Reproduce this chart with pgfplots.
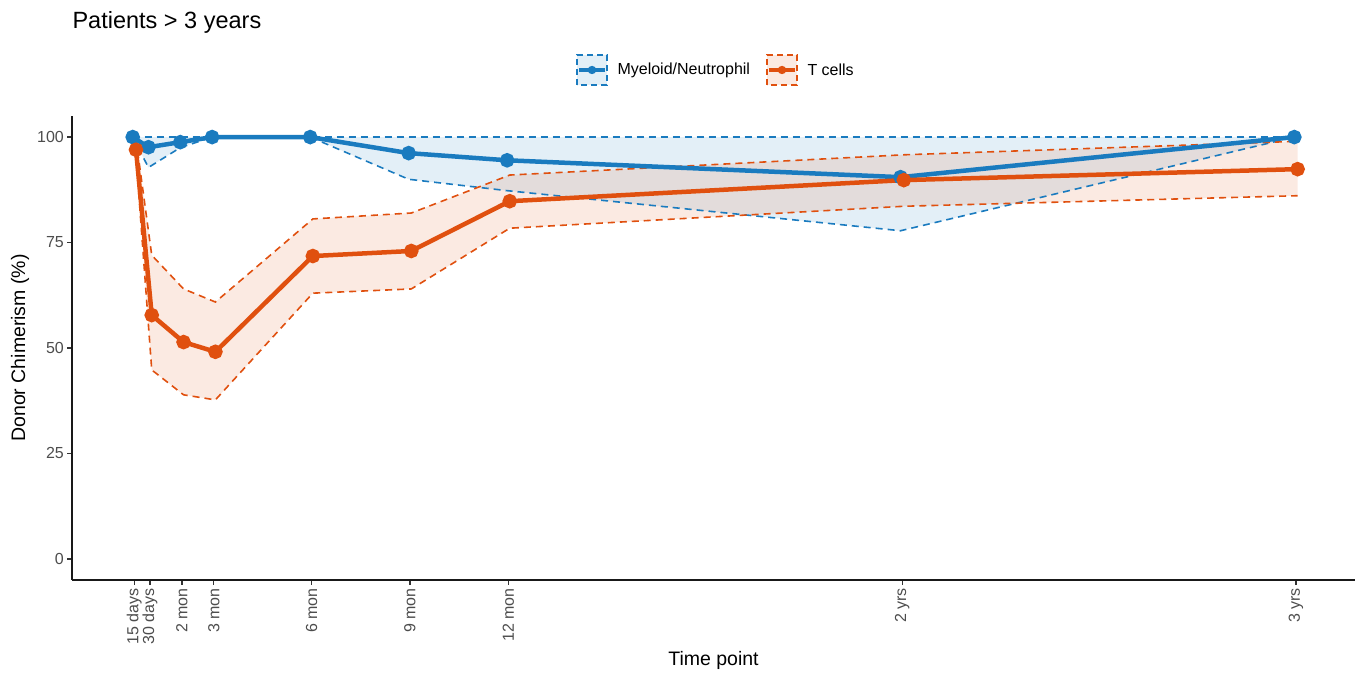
\documentclass[border=0pt]{standalone}
\usepackage{fontspec}
\setmainfont{Liberation Sans}
\usepackage{pgfplots}
\pgfplotsset{compat=1.18}
\usepgfplotslibrary{fillbetween}

\definecolor{myel}{HTML}{1A7BBF}
\definecolor{tcell}{HTML}{E0500F}
\definecolor{tickgray}{HTML}{4D4D4D}

% Myeloid/Neutrophil: time (months, dodged left), mean, upper, lower
\pgfplotstableread{
x     m      up    lo
0.55  100.0  100   100.0
1.03  97.6   100   92.8
2.00  98.8   100   97.5
2.97  100.0  100   100.0
5.96  100.0  100   100.0
8.96  96.2   100   90.0
11.96 94.5   100   87.3
23.95 90.5   100   77.8
35.95 100.0  100   100.0
}\myeloid

% T cells: time (months, dodged right), mean, upper, lower
\pgfplotstableread{
x     m      up    lo
0.65  97.0   99.5  95.5
1.13  57.8   72.0  44.8
2.10  51.4   64.0  38.9
3.07  49.1   60.9  37.7
6.04  71.8   80.6  63.0
9.04  73.0   82.0  64.0
12.04 84.8   91.0  78.4
24.05 89.8   95.8  83.6
36.05 92.4   99.0  86.1
}\tcells

\begin{document}
\begin{tikzpicture}
\path (0pt,0pt) rectangle (1363pt,675pt);

% title
\node[anchor=west, font=\fontsize{23.5}{26}\selectfont] at (69pt,653pt) {Patients > 3 years};

% legend
\begin{scope}[shift={(577pt,605pt)}]
  \draw[myel, dashed, dash pattern=on 6pt off 4pt, line width=1.4pt, fill=myel, fill opacity=0.12] (0pt,-15pt) rectangle (30pt,15pt);
  \draw[myel, line width=4pt] (2pt,0pt) -- (28pt,0pt);
  \fill[myel] (15pt,0pt) circle (4.2pt);
  \node[anchor=west, font=\fontsize{16}{18}\selectfont] at (37pt,0pt) {Myeloid/Neutrophil};
\end{scope}
\begin{scope}[shift={(767pt,605pt)}]
  \draw[tcell, dashed, dash pattern=on 6pt off 4pt, line width=1.4pt, fill=tcell, fill opacity=0.12] (0pt,-15pt) rectangle (30pt,15pt);
  \draw[tcell, line width=4pt] (2pt,0pt) -- (28pt,0pt);
  \fill[tcell] (15pt,0pt) circle (4.2pt);
  \node[anchor=west, font=\fontsize{16}{18}\selectfont] at (37pt,0pt) {T cells};
\end{scope}

\begin{axis}[
  at={(72pt,95pt)}, anchor=south west,
  scale only axis, width=1283pt, height=464pt,
  xmin=-1.3, xmax=37.8, ymin=-5, ymax=105,
  axis x line*=bottom, axis y line*=left,
  axis line style={line width=1.6pt, black!90},
  xtick={0.6,1.08,2.05,3.02,6,9,12,24,36},
  xticklabels={15 days,30 days,2 mon,3 mon,6 mon,9 mon,12 mon,2 yrs,3 yrs},
  ytick={0,25,50,75,100},
  tick align=outside, major tick length=5pt,
  tick style={line width=1.2pt, black!80},
  /pgf/number format/assume math mode=true,
  xticklabel style={rotate=90, anchor=east, font=\fontsize{16}{18}\selectfont, text=tickgray, inner sep=3pt},
  yticklabel style={font=\fontsize{16}{18}\selectfont, text=tickgray, inner sep=3pt},
  xlabel={Time point}, ylabel={Donor Chimerism (\%)},
  label style={font=\fontsize{19.5}{22}\selectfont},
  xlabel style={at={(axis description cs:0.5,0)}, anchor=center, yshift=-80pt},
  ylabel style={at={(axis description cs:0,0.5)}, anchor=center, yshift=52pt},
]
% ribbons
\addplot[name path=mu, myel, dashed, dash pattern=on 7pt off 5pt, line width=1.6pt] table[x=x, y=up] {\myeloid};
\addplot[name path=ml, myel, dashed, dash pattern=on 7pt off 5pt, line width=1.6pt] table[x=x, y=lo] {\myeloid};
\addplot[myel, fill opacity=0.12, draw=none] fill between[of=mu and ml];
\addplot[name path=tu, tcell, dashed, dash pattern=on 7pt off 5pt, line width=1.6pt] table[x=x, y=up] {\tcells};
\addplot[name path=tl, tcell, dashed, dash pattern=on 7pt off 5pt, line width=1.6pt] table[x=x, y=lo] {\tcells};
\addplot[tcell, fill opacity=0.12, draw=none] fill between[of=tu and tl];
% mean lines with points
\addplot[myel, line width=4.5pt, mark=*, mark size=5pt, mark options={solid, draw=none, fill=myel}] table[x=x, y=m] {\myeloid};
\addplot[tcell, line width=4.5pt, mark=*, mark size=5pt, mark options={solid, draw=none, fill=tcell}] table[x=x, y=m] {\tcells};
\end{axis}
\end{tikzpicture}
\end{document}
